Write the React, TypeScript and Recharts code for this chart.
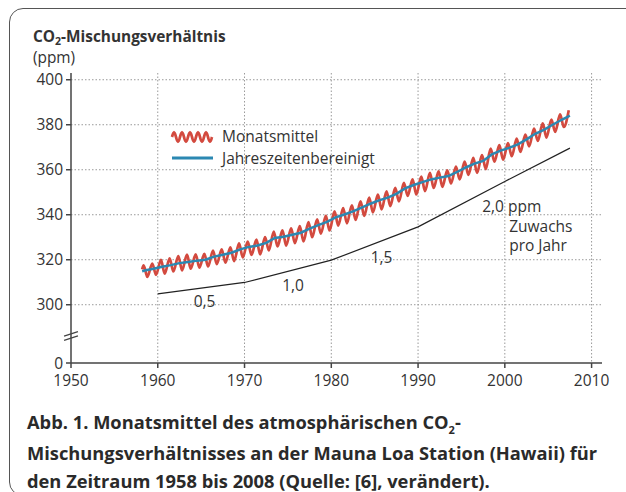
import { LineChart, Line, XAxis, YAxis, CartesianGrid, ReferenceLine, ReferenceDot } from 'recharts';

// Mauna Loa record (ppm)
const years = [
  1958, 1959, 1960, 1961, 1962, 1963, 1964, 1965, 1966, 1967,
  1968, 1969, 1970, 1971, 1972, 1973, 1974, 1975, 1976, 1977,
  1978, 1979, 1980, 1981, 1982, 1983, 1984, 1985, 1986, 1987,
  1988, 1989, 1990, 1991, 1992, 1993, 1994, 1995, 1996, 1997,
  1998, 1999, 2000, 2001, 2002, 2003, 2004, 2005, 2006, 2007,
];
const annualMean = [
  315.2, 316.0, 316.9, 317.6, 318.5, 319.0, 319.6, 320.0, 321.4, 322.2,
  323.1, 324.6, 325.7, 326.3, 327.5, 329.7, 330.2, 331.1, 332.0, 333.8,
  335.4, 336.8, 338.8, 340.1, 341.5, 343.2, 344.9, 346.4, 347.6, 349.3,
  351.7, 353.2, 354.5, 355.7, 356.5, 357.2, 359.0, 361.0, 362.7, 363.9,
  366.8, 368.5, 369.7, 371.3, 373.5, 376.0, 377.7, 380.0, 382.1, 384.0,
];
// spring maximum of the monthly means
const springPeak = [
  317.5, 318.3, 320.0, 320.6, 321.6, 322.3, 322.4, 322.6, 324.1, 324.6,
  325.5, 327.3, 328.1, 328.9, 330.1, 332.5, 333.1, 333.9, 334.9, 336.7,
  338.0, 339.5, 341.5, 343.0, 344.2, 345.9, 347.6, 348.9, 350.4, 351.9,
  354.2, 355.7, 357.0, 358.6, 359.3, 359.7, 361.4, 363.6, 365.3, 366.5,
  369.4, 370.9, 371.8, 373.8, 375.6, 378.3, 380.6, 382.3, 384.6, 386.4,
];
// autumn minimum of the monthly means (record ends before the 2007 minimum)
const autumnLow = [
  312.4, 313.3, 313.8, 314.8, 315.3, 316.0, 316.5, 317.0, 318.0, 318.7,
  319.4, 321.0, 322.1, 322.4, 324.1, 325.9, 326.3, 327.4, 328.1, 330.0,
  331.6, 333.0, 335.2, 336.2, 337.7, 339.5, 341.0, 342.4, 343.8, 345.9,
  348.4, 349.0, 350.5, 351.9, 352.4, 353.9, 355.7, 357.7, 358.6, 360.3,
  363.6, 364.5, 366.0, 367.9, 370.4, 372.8, 374.3, 376.8, 379.0,
];
const firstMonth = { x: 1958.2, monthly: 315.7, adjusted: 314.9 };

// growth-rate guide line and its labels
const growthYears = [1960, 1970, 1980, 1990, 2000, 2007.5];
const growthLevel = [304.8, 309.9, 319.8, 334.6, 354.8, 369.6];
const rateLabels = ['0,5', '1,0', '1,5'];
const rateLabelYears = [1965.4, 1975.6, 1985.8];
const rateLabelLevels = [301.5, 308.7, 320.8];
const noteLines = ['2,0 ppm', 'Zuwachs', 'pro Jahr'];
const noteYears = [1997.4, 2000.5, 2000.5];
const noteLevels = [343.8, 334.6, 326.4];

const xTicks = [1950, 1960, 1970, 1980, 1990, 2000, 2010];
const BREAK_ZERO = 274.1; // position of "0" below the axis break
const yTicks = [BREAK_ZERO, 300, 320, 340, 360, 380, 400];

const RED = '#d34a3f';
const BLUE = '#2b88b2';
const INK = '#333';
const AXIS = '#444';

const monthlyData: { x: number; y: number }[] = [{ x: firstMonth.x, y: firstMonth.monthly }];
years.forEach((yr, i) => {
  monthlyData.push({ x: yr + 0.37, y: springPeak[i] });
  if (i < autumnLow.length) monthlyData.push({ x: yr + 0.8, y: autumnLow[i] });
});

const adjustedData = [
  { x: firstMonth.x, y: firstMonth.adjusted },
  ...years.map((yr, i) => ({ x: yr + 0.5, y: annualMean[i] })),
];

const growthData = growthYears.map((yr, i) => ({ x: yr, y: growthLevel[i] }));

// little wavy icon for the legend
const wavePath = (() => {
  let d = 'M0,8';
  for (let i = 1; i <= 80; i++) {
    const px = (i / 80) * 40;
    const py = 8 - 4.5 * Math.sin((i / 80) * Math.PI * 2 * 5);
    d += ` L${px.toFixed(2)},${py.toFixed(2)}`;
  }
  return d;
})();

const tickStyle = { fontSize: 15.5, fill: INK };

const App = () => {
  return (
    <div
      style={{
        position: 'absolute',
        left: 0,
        top: 0,
        width: 626,
        height: 492,
        overflow: 'hidden',
        background: '#fff',
        fontFamily: "'Open Sans', sans-serif",
      }}
    >
      {/* frame */}
      <div
        style={{
          position: 'absolute',
          left: 9,
          top: 8,
          width: 660,
          height: 486,
          border: '1.5px solid #555',
          borderRadius: 14,
        }}
      />

      <LineChart
        width={626}
        height={492}
        margin={{ top: 73, right: 24, bottom: 99, left: 11 }}
        style={{ position: 'absolute', left: 0, top: 0 }}
      >
        <CartesianGrid
          stroke="#9a9a9a"
          strokeDasharray="1.5 2"
          horizontalValues={[300, 320, 340, 360, 380, 400]}
          verticalValues={[1960, 1970, 1980, 1990, 2000, 2010]}
        />
        <XAxis
          type="number"
          dataKey="x"
          domain={[1950, 2011.2]}
          ticks={xTicks}
          allowDataOverflow
          height={30}
          tick={tickStyle}
          tickSize={5}
          tickMargin={7}
          axisLine={{ stroke: AXIS, strokeWidth: 1.5 }}
          tickLine={{ stroke: AXIS, strokeWidth: 1.5 }}
        />
        <YAxis
          type="number"
          dataKey="y"
          domain={[BREAK_ZERO, 403]}
          ticks={yTicks}
          allowDataOverflow
          width={60}
          tick={tickStyle}
          tickSize={5}
          tickMargin={3}
          tickFormatter={(v: number) => (v < 290 ? '0' : String(v))}
          axisLine={{ stroke: AXIS, strokeWidth: 1.5 }}
          tickLine={{ stroke: AXIS, strokeWidth: 1.5 }}
        />

        {/* axis break marks */}
        <ReferenceLine
          segment={[{ x: 1949.2, y: 286.0 }, { x: 1950.8, y: 288.0 }]}
          stroke={AXIS}
          strokeWidth={1.3}
          ifOverflow="visible"
        />
        <ReferenceLine
          segment={[{ x: 1949.2, y: 284.2 }, { x: 1950.8, y: 286.2 }]}
          stroke={AXIS}
          strokeWidth={1.3}
          ifOverflow="visible"
        />

        <Line
          data={growthData}
          dataKey="y"
          type="linear"
          stroke="#222"
          strokeWidth={1.2}
          dot={false}
          isAnimationActive={false}
        />
        <Line
          data={monthlyData}
          dataKey="y"
          type="monotone"
          stroke={RED}
          strokeWidth={2.7}
          dot={false}
          isAnimationActive={false}
        />
        <Line
          data={adjustedData}
          dataKey="y"
          type="linear"
          stroke={BLUE}
          strokeWidth={2.5}
          dot={false}
          isAnimationActive={false}
        />

        {rateLabels.map((t, i) => (
          <ReferenceDot
            key={t}
            x={rateLabelYears[i]}
            y={rateLabelLevels[i]}
            r={0}
            fill="none"
            stroke="none"
            label={{ value: t, position: 'center', fontSize: 15.5, fill: INK }}
          />
        ))}
        {noteLines.map((t, i) => (
          <ReferenceDot
            key={t}
            x={noteYears[i]}
            y={noteLevels[i]}
            r={0}
            fill="none"
            stroke="none"
            label={{ value: t, position: 'right', offset: 0, fontSize: 15.5, fill: INK }}
          />
        ))}
      </LineChart>

      {/* legend */}
      <div style={{ position: 'absolute', left: 170, top: 126, fontSize: 15.5, color: INK, lineHeight: '21.5px' }}>
        <div style={{ display: 'flex', alignItems: 'center' }}>
          <svg width={44} height={16} style={{ marginRight: 8 }}>
            <path d={wavePath} transform="translate(2,0)" fill="none" stroke={RED} strokeWidth={2.7} />
          </svg>
          <span>Monatsmittel</span>
        </div>
        <div style={{ display: 'flex', alignItems: 'center' }}>
          <svg width={44} height={16} style={{ marginRight: 8 }}>
            <line x1={2} y1={8} x2={43} y2={8} stroke={BLUE} strokeWidth={3} />
          </svg>
          <span>Jahreszeitenbereinigt</span>
        </div>
      </div>

      {/* axis title */}
      <div style={{ position: 'absolute', left: 33, top: 27, lineHeight: '20px', fontSize: 15.4, color: INK }}>
        <div style={{ fontWeight: 700 }}>
          CO<span style={{ fontSize: 10.5, position: 'relative', top: 3 }}>2</span>-Mischungsverhältnis
        </div>
        <div>(ppm)</div>
      </div>

      {/* caption */}
      <div
        style={{
          position: 'absolute',
          left: 27,
          top: 408,
          lineHeight: '28px',
          fontSize: 18.3,
          fontWeight: 700,
          color: '#2a2a2a',
          whiteSpace: 'nowrap',
        }}
      >
        <div>
          Abb. 1. Monatsmittel des atmosphärischen CO
          <span style={{ fontSize: 11, position: 'relative', top: 5 }}>2</span>-
        </div>
        <div>Mischungsverhältnisses an der Mauna Loa Station (Hawaii) für</div>
        <div>den Zeitraum 1958 bis 2008 (Quelle: [6], verändert).</div>
      </div>
    </div>
  );
};

export default App;
